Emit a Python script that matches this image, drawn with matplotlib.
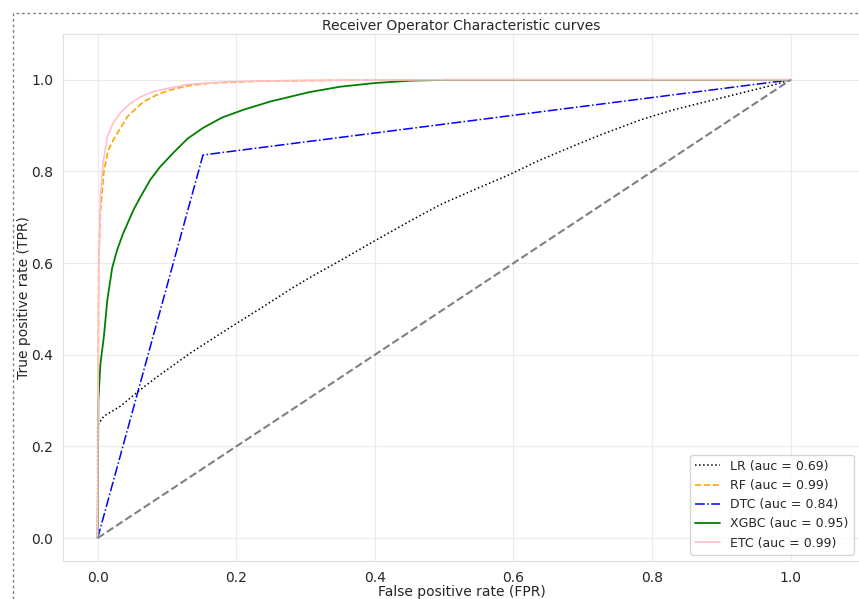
import numpy as np
import matplotlib.pyplot as plt
import seaborn as sns
from matplotlib.lines import Line2D

# ROC points
lr_fpr = [0.0, 0.0, 0.002, 0.009, 0.033, 0.060, 0.086, 0.110, 0.134, 0.173, 0.202, 0.240,
          0.278, 0.310, 0.346, 0.399, 0.452, 0.495, 0.543, 0.591, 0.634, 0.687, 0.726,
          0.784, 0.832, 0.880, 0.928, 0.976, 1.0]
lr_tpr = [0.0, 0.245, 0.251, 0.266, 0.288, 0.322, 0.352, 0.378, 0.404, 0.442, 0.470, 0.506,
          0.543, 0.572, 0.602, 0.648, 0.693, 0.728, 0.760, 0.791, 0.822, 0.856, 0.880,
          0.913, 0.935, 0.953, 0.971, 0.989, 1.0]

rf_fpr = [0.0, 0.001, 0.0015, 0.004, 0.009, 0.015, 0.023, 0.033, 0.043, 0.055, 0.066,
          0.085, 0.105, 0.13, 0.163, 0.235, 0.35, 0.5, 1.0]
rf_tpr = [0.0, 0.40, 0.60, 0.71, 0.80, 0.845, 0.87, 0.895, 0.92, 0.937, 0.952,
          0.967, 0.978, 0.987, 0.993, 0.997, 0.999, 1.0, 1.0]

dtc_fpr = [0.0, 0.152, 1.0]
dtc_tpr = [0.0, 0.836, 1.0]

xgb_fpr = [0.0, 0.001, 0.004, 0.009, 0.014, 0.021, 0.028, 0.036, 0.045, 0.052, 0.062,
           0.076, 0.09, 0.11, 0.13, 0.153, 0.18, 0.211, 0.25, 0.305, 0.35, 0.40, 0.45,
           0.50, 1.0]
xgb_tpr = [0.0, 0.30, 0.38, 0.44, 0.52, 0.59, 0.628, 0.662, 0.693, 0.717, 0.745,
           0.782, 0.81, 0.842, 0.872, 0.896, 0.918, 0.935, 0.953, 0.973, 0.985, 0.993, 0.998,
           1.0, 1.0]

etc_fpr = [0.0, 0.001, 0.002, 0.004, 0.008, 0.014, 0.022, 0.033, 0.045, 0.062, 0.08,
           0.10, 0.13, 0.19, 0.30, 0.50, 1.0]
etc_tpr = [0.0, 0.45, 0.62, 0.745, 0.82, 0.876, 0.905, 0.928, 0.946, 0.963, 0.974,
           0.981, 0.99, 0.996, 0.999, 1.0, 1.0]

sns.set_style('whitegrid', {'grid.color': '#ebebeb', 'axes.edgecolor': '#e0e0e0'})
plt.rcParams['font.family'] = ['DejaVu Sans']
plt.rcParams['font.size'] = 10

W, H = 859, 599
fig = plt.figure(figsize=(W / 100, H / 100), dpi=100)
ax = fig.add_axes([63 / W, (H - 561) / H, (860 - 63) / W, (561 - 34) / H])

ax.plot(lr_fpr, lr_tpr, color='black', linestyle=':', lw=1.1, label='LR (auc = 0.69)')
ax.plot(rf_fpr, rf_tpr, color='orange', linestyle='--', lw=1.2, label='RF (auc = 0.99)')
ax.plot(dtc_fpr, dtc_tpr, color='blue', linestyle='-.', lw=1.1, label='DTC (auc = 0.84)')
ax.plot(xgb_fpr, xgb_tpr, color='green', linestyle='-', lw=1.3, label='XGBC (auc = 0.95)')
ax.plot(etc_fpr, etc_tpr, color='pink', linestyle='-', lw=1.2, label='ETC (auc = 0.99)')
ax.plot([0, 1], [0, 1], color='grey', linestyle='--', lw=1.5)

ax.set_xlim(-0.05, 1.1)
ax.set_ylim(-0.05, 1.1)
ax.set_xticks([0.0, 0.2, 0.4, 0.6, 0.8, 1.0])
ax.set_yticks([0.0, 0.2, 0.4, 0.6, 0.8, 1.0])
ax.set_title('Receiver Operator Characteristic curves', fontsize=10, pad=3)
ax.set_xlabel('False positive rate (FPR)', labelpad=0)
ax.set_ylabel('True positive rate (TPR)', labelpad=0)
ax.legend(loc='lower right', fontsize=9)

# dotted frame of the screenshot
fig.add_artist(Line2D([13 / W, 13 / W, 1], [0, 1 - 13 / H, 1 - 13 / H],
                      transform=fig.transFigure, color='grey', lw=1,
                      linestyle=(0, (2, 2))))

fig.savefig('out.png', dpi=100)
